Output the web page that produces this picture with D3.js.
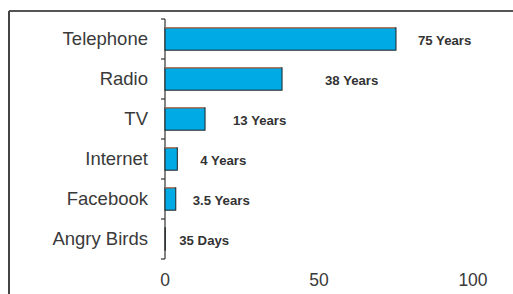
<!DOCTYPE html>
<html>
<head>
<meta charset="utf-8">
<script src="https://cdn.jsdelivr.net/npm/d3@7"></script>
<style>
  body { margin: 0; background: #fff; }
  svg { display: block; font-family: Arial, "Liberation Sans", sans-serif; }
</style>
</head>
<body>
<div id="chart"></div>
<script>
// data
const categories = ["Telephone", "Radio", "TV", "Internet", "Facebook", "Angry Birds"];
const years = [75, 38, 13, 4, 3.5, 35 / 365];
const valueLabels = ["75 Years", "38 Years", "13 Years", "4 Years", "3.5 Years", "35 Days"];
const xTicks = [0, 50, 100];

// label placement (px right of bar end)
const labelDx = [22, 43, 28, 23, 17, 14];

const width = 513, height = 294;
const margin = { top: 19, left: 165, right: 40, bottom: 35 };

const svg = d3.select("#chart").append("svg")
  .attr("width", width)
  .attr("height", height);

// frame
svg.append("line")
  .attr("x1", 9).attr("x2", width).attr("y1", 11).attr("y2", 11)
  .attr("stroke", "#555").attr("stroke-width", 2);
svg.append("line")
  .attr("x1", 9).attr("x2", 9).attr("y1", 11).attr("y2", height)
  .attr("stroke", "#444").attr("stroke-width", 2);

// scales
const x = d3.scaleLinear().domain([0, 100]).range([margin.left, margin.left + 308]);
const y = d3.scaleBand().domain(categories).range([margin.top, margin.top + 240])
  .paddingInner(0.44).paddingOuter(0.22);

// y axis with ticks at band boundaries
const g = svg.append("g");
g.append("line")
  .attr("x1", x(0)).attr("x2", x(0))
  .attr("y1", margin.top).attr("y2", margin.top + 240)
  .attr("stroke", "#333").attr("stroke-width", 1.2);
const bounds = d3.range(categories.length + 1).map((i) => margin.top + i * 40);
g.selectAll("line.tick").data(bounds).join("line")
  .attr("class", "tick")
  .attr("x1", x(0) - 4).attr("x2", x(0))
  .attr("y1", (d) => d).attr("y2", (d) => d)
  .attr("stroke", "#333").attr("stroke-width", 1.2);

g.selectAll("text.cat").data(categories).join("text")
  .attr("class", "cat")
  .attr("x", 148)
  .attr("y", (d) => margin.top + categories.indexOf(d) * 40 + 20)
  .attr("dy", "0.35em")
  .attr("text-anchor", "end")
  .attr("font-size", 18.5)
  .attr("fill", "#3a3a3a")
  .text((d) => d);

// bars
const data = categories.map((c, i) => ({ cat: c, v: years[i], label: valueLabels[i], dx: labelDx[i] }));

svg.selectAll("rect.bar").data(data).join("rect")
  .attr("class", "bar")
  .attr("x", x(0))
  .attr("y", (d) => y(d.cat))
  .attr("width", (d) => x(d.v) - x(0))
  .attr("height", y.bandwidth())
  .attr("fill", "#00aae4")
  .attr("stroke", "#222")
  .attr("stroke-width", 1);

svg.selectAll("line.topedge").data(data.filter((d) => d.v > 1)).join("line")
  .attr("class", "topedge")
  .attr("x1", x(0)).attr("x2", (d) => x(d.v) - 1)
  .attr("y1", (d) => y(d.cat)).attr("y2", (d) => y(d.cat))
  .attr("stroke", "#d9805f").attr("stroke-width", 1);

svg.selectAll("text.val").data(data).join("text")
  .attr("class", "val")
  .attr("x", (d) => x(d.v) + d.dx)
  .attr("y", (d) => y(d.cat) + y.bandwidth() / 2 + 1)
  .attr("dy", "0.35em")
  .attr("font-size", 13.2)
  .attr("font-weight", "bold")
  .attr("fill", "#333")
  .text((d) => d.label);

// x tick labels
svg.selectAll("text.xt").data(xTicks).join("text")
  .attr("class", "xt")
  .attr("x", (d) => x(d))
  .attr("y", 280)
  .attr("dy", "0.35em")
  .attr("text-anchor", "middle")
  .attr("font-size", 17.5)
  .attr("fill", "#3a3a3a")
  .text((d) => d);
</script>
</body>
</html>
